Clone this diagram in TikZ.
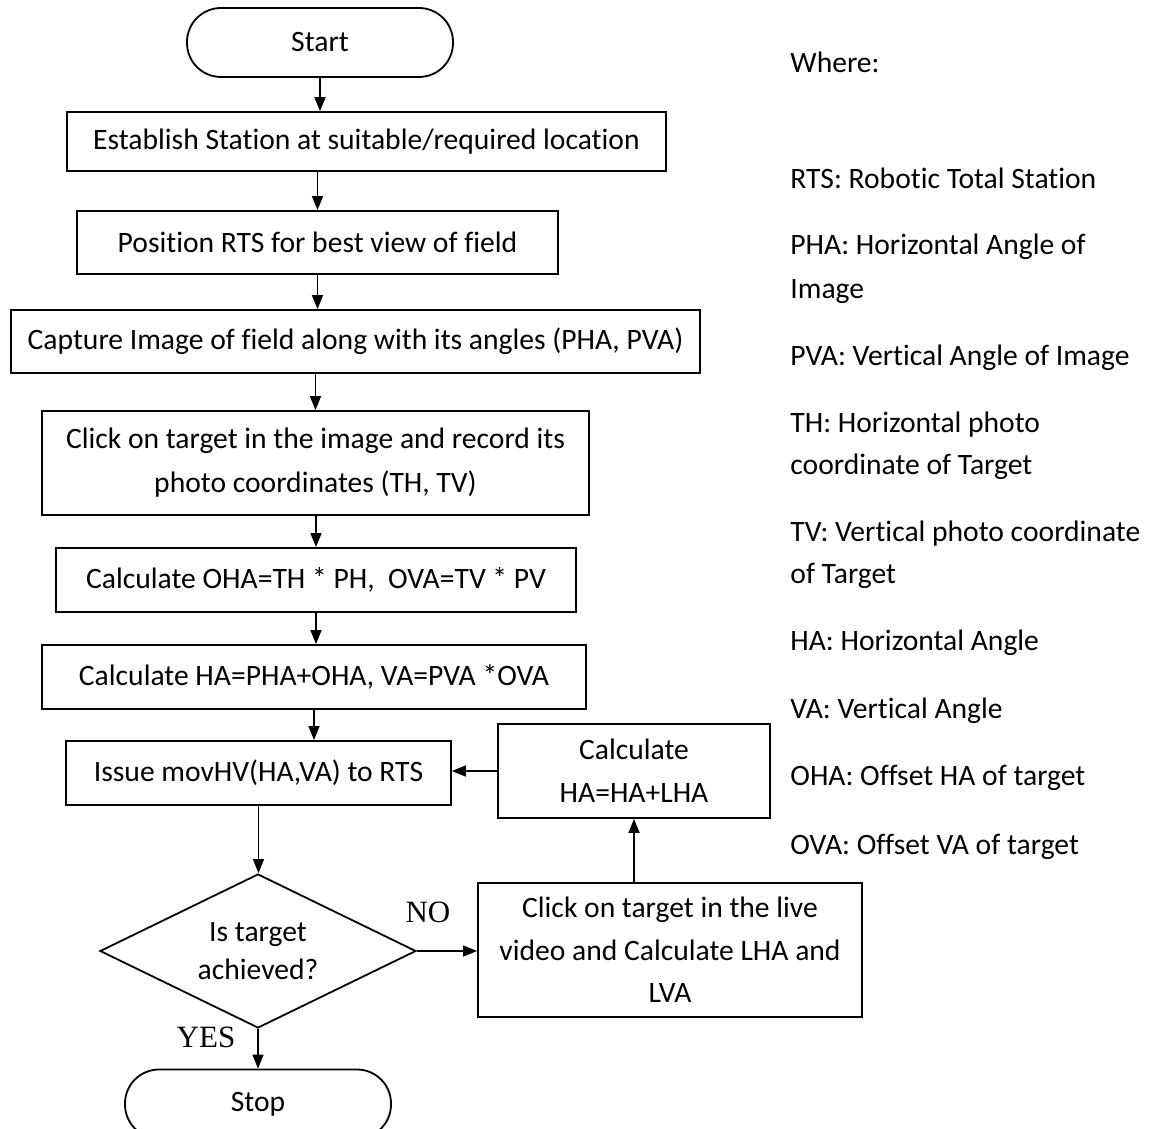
\documentclass[tikz,border=0pt]{standalone}
\usepackage{fontspec}
\setmainfont{Carlito}[Ligatures=NoCommon]
\newfontfamily\timesfont{Liberation Serif}
\usetikzlibrary{shapes.geometric, arrows.meta}

\begin{document}
\begin{tikzpicture}[x=0.5pt, y=-0.5pt,
  every node/.style={font=\fontsize{14.8}{21.5}\selectfont, inner sep=0pt},
  procbox/.style={draw, line width=0.9pt, align=center},
  termbox/.style={draw, line width=0.9pt, rounded corners=17pt,
    minimum width=133pt, minimum height=34.5pt},
  decision/.style={draw, line width=0.9pt, diamond, aspect=2.05,
    minimum width=158pt, minimum height=77pt, align=center},
  flow/.style={line width=0.75pt, -{Triangle[length=7pt,width=5.5pt]}},
  legend/.style={anchor=base west},
  answer/.style={font=\timesfont\fontsize{15.5}{18}\selectfont}
]
\useasboundingbox (0,0) rectangle (1152,1129);
\clip (0,0) rectangle (1152,1129);

% main column
\node[termbox] (start) at (320,42.5) {Start};
\node[procbox, minimum width=299.5pt, minimum height=29.5pt] (b1) at (366.5,141.5)
  {Establish Station at suitable/required location};
\node[procbox, minimum width=240.5pt, minimum height=31.5pt] (b2) at (317.5,242.5)
  {Position RTS for best view of field};
\node[procbox, minimum width=344.5pt, minimum height=31.5pt] (b3) at (355.5,341.5)
  {Capture Image of field along with its angles (PHA, PVA)};
\node[procbox, minimum width=273.5pt, minimum height=52pt,
  font=\fontsize{14.8}{22}\selectfont] (b4) at (315.5,463)
  {Click on target in the image and record its\\photo coordinates (TH, TV)};
\node[procbox, minimum width=260pt, minimum height=32pt] (b5) at (316,580)
  {Calculate OHA=TH * PH,\ \ OVA=TV * PV};
\node[procbox, minimum width=272pt, minimum height=32pt] (b6) at (314,677)
  {Calculate HA=PHA+OHA, VA=PVA *OVA};
\node[procbox, minimum width=192.5pt, minimum height=32pt] (b7) at (258.5,773)
  {Issue movHV(HA,VA) to RTS};
\node[decision, font=\fontsize{14.8}{19}\selectfont] (dec) at (258,951)
  {Is target\\achieved?};
\node[termbox] (stop) at (258,1104) {Stop};

% correction loop
\node[procbox, minimum width=136pt, minimum height=47pt] (b8) at (634,771)
  {Calculate\\HA=HA+LHA};
\node[procbox, minimum width=192pt, minimum height=67pt,
  font=\fontsize{14.8}{21.25}\selectfont] (b9) at (670,950)
  {Click on target in the live\\video and Calculate LHA and\\LVA};

% answers of the decision
\node[answer] (no) at (428,912) {NO};
\node[answer] (yes) at (206,1037) {YES};

% connectors
\draw[flow] (start.south) -- (start.south |- b1.north);
\draw[flow] (b2.north |- b1.south) -- (b2.north);
\draw[flow] (b2.south) -- (b2.south |- b3.north);
\draw[flow] (b4.north |- b3.south) -- (b4.north);
\draw[flow] (b5.north |- b4.south) -- (b5.north);
\draw[flow] (b5.south) -- (b5.south |- b6.north);
\draw[flow] (b6.south) -- (b6.south |- b7.north);
\draw[flow] (b7.south) -- (b7.south |- dec.north);
\draw[flow] (dec.south) -- (dec.south |- stop.north);
\draw[flow] (dec.east) -- (dec.east -| b9.west);
\draw[flow] (b8.south |- b9.north) -- (b8.south);
\draw[flow] (b8.west) -- (b8.west -| b7.east);

% abbreviations
\node[legend] (lw)   at (790,73)  {Where:};
\node[legend] (lrts) at (790,189) {RTS: Robotic Total Station};
\node[legend] (lpha) at (790,255) {PHA: Horizontal Angle of};
\node[legend] (lphb) at (790,298) {Image};
\node[legend] (lpva) at (790,365) {PVA: Vertical Angle of Image};
\node[legend] (ltha) at (790,432) {TH: Horizontal photo};
\node[legend] (lthb) at (790,474) {coordinate of Target};
\node[legend] (ltva) at (790,541) {TV: Vertical photo coordinate};
\node[legend] (ltvb) at (790,583) {of Target};
\node[legend] (lha)  at (790,650) {HA: Horizontal Angle};
\node[legend] (lva)  at (790,718) {VA: Vertical Angle};
\node[legend] (loha) at (790,785) {OHA: Offset HA of target};
\node[legend] (lova) at (790,854) {OVA: Offset VA of target};
\end{tikzpicture}
\end{document}
